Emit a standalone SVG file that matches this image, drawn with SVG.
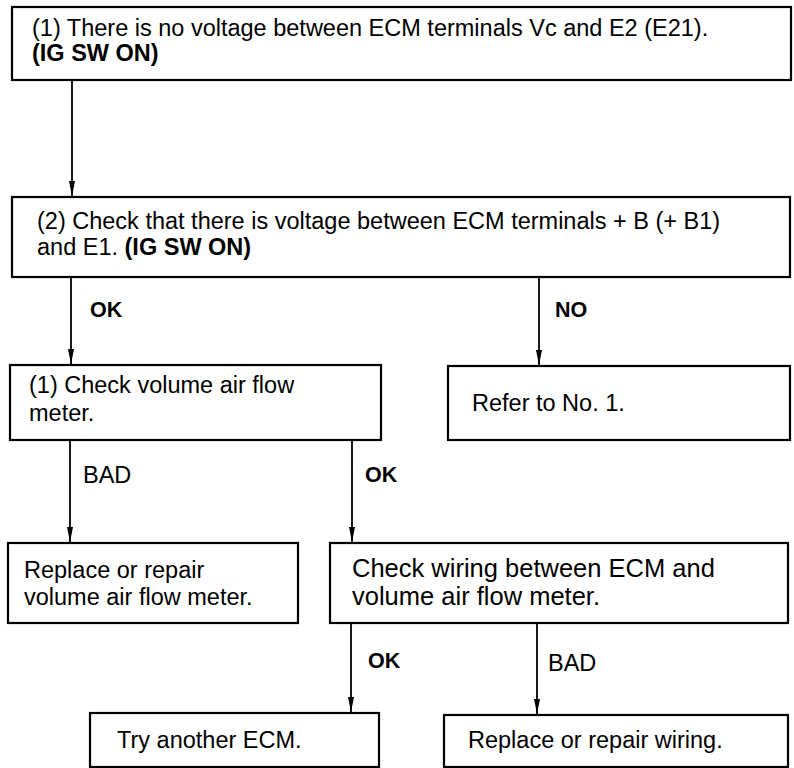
<svg xmlns="http://www.w3.org/2000/svg" width="794" height="768" viewBox="0 0 794 768">
<defs>
<marker id="ah" viewBox="0 0 15 7" markerWidth="15" markerHeight="7" refX="15" refY="3.5" orient="auto" markerUnits="userSpaceOnUse">
<path d="M0,0.5 L15,3.5 L0,6.5 Z" fill="#000"/>
</marker>
</defs>
<style>
.box{fill:#fff;stroke:#000;stroke-width:2.2}
.t{font-family:"Liberation Sans",Arial,sans-serif;font-size:23.5px;fill:#000}
.t2{font-size:25.5px}
.b{font-weight:bold}
.lbl{font-family:"Liberation Sans",Arial,sans-serif;font-size:21.5px;font-weight:bold;fill:#000}
.line{stroke:#000;stroke-width:1.8;fill:none;marker-end:url(#ah)}
</style>
<rect width="794" height="768" fill="#fff"/>
<g id="connectors">
<line class="line" x1="72" y1="80" x2="72" y2="196"/>
<line class="line" x1="71" y1="277" x2="71" y2="364"/>
<line class="line" x1="539" y1="277" x2="539" y2="365"/>
<line class="line" x1="70" y1="440" x2="70" y2="542"/>
<line class="line" x1="352" y1="440" x2="352" y2="542"/>
<line class="line" x1="351" y1="623" x2="351" y2="712"/>
<line class="line" x1="537" y1="623" x2="537" y2="714"/>
<text class="lbl" x="90" y="317">OK</text>
<text class="lbl" x="555" y="317">NO</text>
<text class="t" x="83" y="483">BAD</text>
<text class="lbl" x="365" y="482">OK</text>
<text class="lbl" x="368" y="668">OK</text>
<text class="t" x="548" y="671">BAD</text>
</g>
<g id="n1">
<rect class="box" x="12" y="7" width="779" height="73"/>
<text class="t" x="32" y="35.5">(1) There is no voltage between ECM terminals Vc and E2 (E21).</text>
<text class="t b" x="32" y="61">(IG SW ON)</text>
</g>
<g id="n2">
<rect class="box" x="12" y="197" width="778" height="80"/>
<text class="t" x="37" y="229">(2) Check that there is voltage between ECM terminals + B (+ B1)</text>
<text class="t" x="37" y="255">and E1. <tspan class="b">(IG SW ON)</tspan></text>
</g>
<g id="n3">
<rect class="box" x="10" y="365" width="371" height="75"/>
<text class="t" x="29" y="393">(1) Check volume air flow</text>
<text class="t" x="29" y="421">meter.</text>
</g>
<g id="n4">
<rect class="box" x="448" y="366" width="342" height="74"/>
<text class="t" x="472" y="411">Refer to No. 1.</text>
</g>
<g id="n5">
<rect class="box" x="8" y="543" width="290" height="80"/>
<text class="t" x="24" y="578">Replace or repair</text>
<text class="t" x="24" y="605">volume air flow meter.</text>
</g>
<g id="n6">
<rect class="box" x="330" y="543" width="458" height="80"/>
<text class="t t2" x="352" y="577">Check wiring between ECM and</text>
<text class="t t2" x="352" y="605">volume air flow meter.</text>
</g>
<g id="n7">
<rect class="box" x="90" y="713" width="289" height="54"/>
<text class="t" x="117" y="748">Try another ECM.</text>
</g>
<g id="n8">
<rect class="box" x="444" y="715" width="344" height="52"/>
<text class="t" x="468" y="748">Replace or repair wiring.</text>
</g>
</svg>
